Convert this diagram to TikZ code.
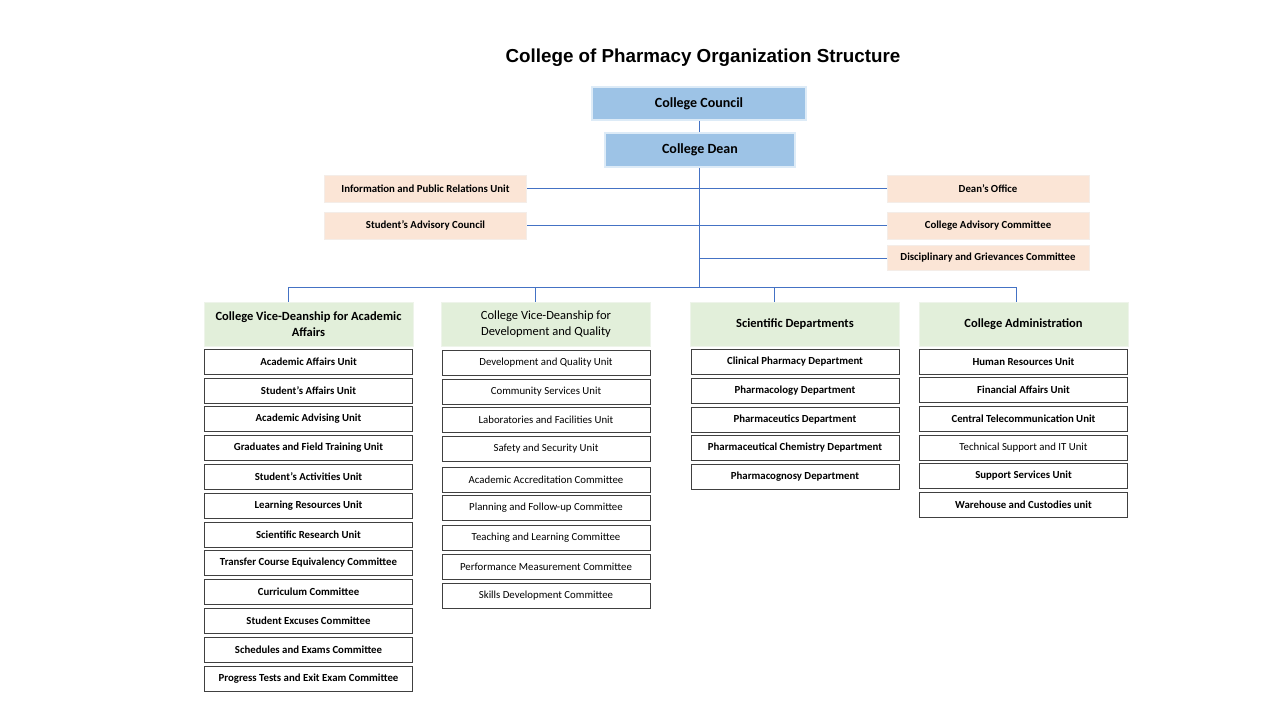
\documentclass[tikz,border=0pt]{standalone}
\usepackage{fontspec}
\setmainfont{Carlito}
\newfontfamily\titlefont{Liberation Sans}
\definecolor{blueF}{HTML}{9DC3E6}
\definecolor{blueB}{HTML}{DDEBF7}
\definecolor{peachF}{HTML}{FBE5D6}
\definecolor{peachB}{HTML}{F4EDE8}
\definecolor{greenF}{HTML}{E2EFDA}
\definecolor{greenB}{HTML}{EEF4EA}
\definecolor{itemB}{HTML}{404040}
\definecolor{connC}{HTML}{4472C4}
\begin{document}
\begin{tikzpicture}[x=1pt,y=-1pt,
  topbox/.style={fill=blueF,draw=blueB,line width=1.5pt,inner sep=0pt,font=\fontsize{14}{16}\selectfont\bfseries},
  sidebox/.style={fill=peachF,draw=peachB,line width=1pt,minimum width=202pt,minimum height=27pt,inner sep=0pt,font=\fontsize{10.8}{12}\selectfont\bfseries},
  headbox/.style={fill=greenF,draw=greenB,line width=1pt,minimum width=209pt,minimum height=44pt,inner sep=0pt,align=center,font=\fontsize{12.5}{15.5}\selectfont\bfseries},
  itembox/.style={fill=white,draw=itemB,line width=0.9pt,minimum width=208pt,minimum height=25pt,inner sep=0pt,font=\fontsize{10.8}{12}\selectfont\bfseries},
  itemreg/.style={itembox,font=\fontsize{10.8}{12}\selectfont},
  conn/.style={draw=connC,line width=1pt}]
\useasboundingbox (0,0) rectangle (1280,720);
\fill[white] (0,0) rectangle (1280,720);

\node[font=\titlefont\fontsize{18.8}{21}\selectfont\bfseries] (title) at (703,58) {College of Pharmacy Organization Structure};

\node[topbox,minimum width=214pt,minimum height=33pt] (council) at (699,103.5) {College Council};
\node[topbox,minimum width=190pt,minimum height=34pt] (dean) at (700,150) {College Dean};

\node[sidebox] (info) at (425.5,188.5) {Information and Public Relations Unit};
\node[sidebox] (sac) at (425.5,225.5) {Student’s Advisory Council};
\node[sidebox] (doff) at (988,188.5) {Dean’s Office};
\node[sidebox] (cac) at (988,225.5) {College Advisory Committee};
\node[sidebox,minimum height=25pt] (disc) at (988,258) {Disciplinary and Grievances Committee};

\coordinate (trunkbot) at (699,287);
\coordinate (t258) at (699,258);
\coordinate (b1) at (288,287);
\coordinate (b2) at (535,287);
\coordinate (b3) at (774,287);
\coordinate (b4) at (1016,287);

\node[headbox] (h1) at (308.5,324) {College Vice-Deanship for Academic\\Affairs};
\node[headbox,font=\fontsize{12.5}{15.5}\selectfont] (h2) at (546,324) {College Vice-Deanship for\\Development and Quality};
\node[headbox] (h3) at (795,324) {Scientific Departments};
\node[headbox] (h4) at (1023.5,324) {College Administration};

% column 1
\foreach \y/\t [count=\i] in {362/Academic Affairs Unit,390.5/Student’s Affairs Unit,419/Academic Advising Unit,448/Graduates and Field Training Unit,477/Student’s Activities Unit,505.5/Learning Resources Unit,534.5/Scientific Research Unit,563/Transfer Course Equivalency Committee,591.5/Curriculum Committee,621/Student Excuses Committee,650/Schedules and Exams Committee,679/Progress Tests and Exit Exam Committee}
  \node[itembox] (a\i) at (308.5,\y) {\t};
% column 2
\foreach \y/\t [count=\i] in {363/Development and Quality Unit,392/Community Services Unit,420/Laboratories and Facilities Unit,448.5/Safety and Security Unit,479.5/Academic Accreditation Committee,508/Planning and Follow-up Committee,537.5/Teaching and Learning Committee,566.5/Performance Measurement Committee,596/Skills Development Committee}
  \node[itemreg] (c\i) at (546,\y) {\t};
% column 3
\foreach \y/\t [count=\i] in {362/Clinical Pharmacy Department,391/Pharmacology Department,419.5/Pharmaceutics Department,448/Pharmaceutical Chemistry Department,476.5/Pharmacognosy Department}
  \node[itembox] (s\i) at (795,\y) {\t};
% column 4
\node[itembox] (d1) at (1023.5,361.5) {Human Resources Unit};
\node[itembox] (d2) at (1023.5,390) {Financial Affairs Unit};
\node[itembox] (d3) at (1023.5,418.5) {Central Telecommunication Unit};
\node[itemreg] (d4) at (1023.5,447.5) {Technical Support and IT Unit};
\node[itembox] (d5) at (1023.5,475.5) {Support Services Unit};
\node[itembox] (d6) at (1023.5,504.5) {Warehouse and Custodies unit};

% connectors
\draw[conn] (council.south) -- (council.south |- dean.north);
\draw[conn] (info.east) -- (doff.west);
\draw[conn] (sac.east) -- (cac.west);
\draw[conn] (t258) -- (disc.west);
\draw[conn] (trunkbot |- dean.south) -- (trunkbot);
\draw[conn] (b1) -- (b4);
\draw[conn] (b1) -- (b1 |- h1.north);
\draw[conn] (b2) -- (b2 |- h2.north);
\draw[conn] (b3) -- (b3 |- h3.north);
\draw[conn] (b4) -- (b4 |- h4.north);
\end{tikzpicture}
\end{document}
